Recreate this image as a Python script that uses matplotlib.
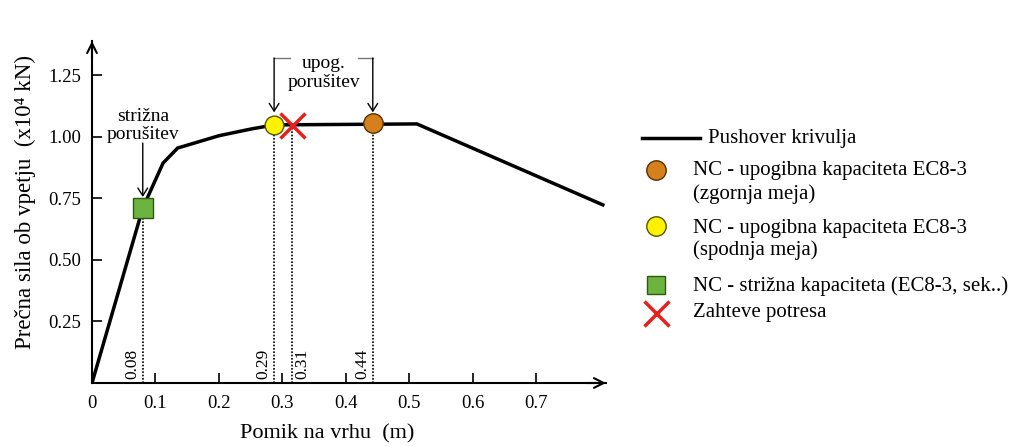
import matplotlib
matplotlib.use("Agg")
import matplotlib.pyplot as plt
from matplotlib.lines import Line2D

plt.rcParams['font.family'] = ['Liberation Serif', 'DejaVu Serif']

# Pushover curve
disp = [0.0, 0.08, 0.112, 0.135, 0.20, 0.25, 0.287, 0.512, 0.805]
force = [0.0, 0.711, 0.894, 0.955, 1.005, 1.032, 1.049, 1.053, 0.724]

# Capacity / demand points
shear_cap = (0.080, 0.711)
flex_lower = (0.287, 1.049)
flex_upper = (0.4425, 1.055)
demand = (0.315, 1.049)

vline_x = [0.080, 0.287, 0.315, 0.4425]
vline_y = [0.711, 1.049, 1.049, 1.055]
vline_labels = ["0.08", "0.29", "0.31", "0.44"]
vline_side = ["left", "left", "right", "left"]

xticks = [0, 0.1, 0.2, 0.3, 0.4, 0.5, 0.6, 0.7]
xticklabels = ["0", "0.1", "0.2", "0.3", "0.4", "0.5", "0.6", "0.7"]
yticks = [0.25, 0.50, 0.75, 1.00, 1.25]
yticklabels = ["0.25", "0.50", "0.75", "1.00", "1.25"]

legend_labels = [
    ["Pushover krivulja"],
    ["NC - upogibna kapaciteta EC8-3", "(zgornja meja)"],
    ["NC - upogibna kapaciteta EC8-3", "(spodnja meja)"],
    ["NC - strižna kapaciteta (EC8-3, sek..)"],
    ["Zahteve potresa"],
]

c_orange = "#D4801C"
c_yellow = "#FFF200"
c_green = "#6CB33F"
c_red = "#E8201C"

W, H = 1018, 446
fig = plt.figure(figsize=(W / 100, H / 100), dpi=100)
ax = fig.add_axes([92 / W, 63 / H, 514 / W, 342 / H])
ax.set_xlim(0, 0.81)
ax.set_ylim(0, 1.39)

for s in ["top", "right"]:
    ax.spines[s].set_visible(False)
for s in ["left", "bottom"]:
    ax.spines[s].set_linewidth(1.5)

# axis arrows
arrow_kw = dict(arrowstyle="->,head_length=0.7,head_width=0.35", color="k", lw=1.5,
                shrinkA=0, shrinkB=0)
ax.annotate("", xy=(1.0, 0), xytext=(0.96, 0), xycoords="axes fraction",
            arrowprops=arrow_kw, annotation_clip=False)
ax.annotate("", xy=(0, 1.0), xytext=(0, 0.95), xycoords="axes fraction",
            arrowprops=arrow_kw, annotation_clip=False)

ax.set_xticks(xticks)
ax.set_xticklabels(xticklabels)
ax.set_yticks(yticks)
ax.set_yticklabels(yticklabels)
ax.tick_params(direction="in", length=7, width=1.2, labelsize=13.5)
ax.tick_params(axis="x", pad=9)
ax.tick_params(axis="y", pad=8)

# dotted verticals + labels
for x, y, lab, side in zip(vline_x, vline_y, vline_labels, vline_side):
    ax.plot([x, x], [0, y], color="k", ls=(0, (1, 1)), lw=1.2)
    if side == "left":
        ax.text(x - 0.004, 0.016, lab, rotation=90, ha="right", va="bottom", fontsize=12.5)
    else:
        ax.text(x + 0.004, 0.016, lab, rotation=90, ha="left", va="bottom", fontsize=12.5)

ax.plot(disp, force, color="k", lw=2.5, solid_joinstyle="miter")

ax.plot(*shear_cap, "s", ms=14, mfc=c_green, mec="#2e5a10", mew=1, zorder=5)
ax.plot(*flex_lower, "o", ms=13.5, mfc=c_yellow, mec="#555500", mew=1, zorder=5)
ax.plot(*flex_upper, "o", ms=14, mfc=c_orange, mec="#5a3000", mew=1, zorder=5)
ax.plot(*demand, "x", ms=18, mec=c_red, mew=2.5, zorder=6)

gray = "#777777"
ann_kw = dict(arrowstyle="->,head_length=0.55,head_width=0.35", color="k", lw=1,
              shrinkA=0, shrinkB=0)
# strižna porušitev annotation
ax.text(0.080, 1.085, "strižna", ha="center", va="center", fontsize=14)
ax.text(0.080, 1.010, "porušitev", ha="center", va="center", fontsize=14)
ax.annotate("", xy=(0.080, 0.756), xytext=(0.080, 0.975), arrowprops=ann_kw)

# upog. porušitev bracket
ax.text(0.365, 1.300, "upog.", ha="center", va="center", fontsize=14)
ax.text(0.365, 1.222, "porušitev", ha="center", va="center", fontsize=14)
ax.plot([0.312, 0.287], [1.321, 1.321], color=gray, lw=1, clip_on=False)
ax.plot([0.419, 0.4425], [1.321, 1.321], color=gray, lw=1, clip_on=False)
ax.annotate("", xy=(0.287, 1.10), xytext=(0.287, 1.321), arrowprops=ann_kw,
            annotation_clip=False)
ax.annotate("", xy=(0.4425, 1.10), xytext=(0.4425, 1.321), arrowprops=ann_kw,
            annotation_clip=False)

ax.set_xlabel("Pomik na vrhu  (m)", fontsize=16)
ax.set_ylabel("Prečna sila ob vpetju  (x10⁴ kN)", fontsize=16.5)
ax.xaxis.set_label_coords(0.457, -0.122)
ax.yaxis.set_label_coords(-0.108, 0.53)

# manual legend (figure pixel layout)
lax = fig.add_axes([0, 0, 1, 1], facecolor="none")
lax.set_xlim(0, W)
lax.set_ylim(H, 0)
lax.axis("off")
fs_leg = 15
lax.plot([642, 700], [138, 138], color="k", lw=2.5)
lax.text(708, 138, legend_labels[0][0], va="center", ha="left", fontsize=fs_leg)
marker_specs = [
    dict(marker="o", ms=14, mfc=c_orange, mec="#5a3000", mew=1),
    dict(marker="o", ms=14, mfc=c_yellow, mec="#555500", mew=1),
    dict(marker="s", ms=13, mfc=c_green, mec="#2e5a10", mew=1),
    dict(marker="x", ms=18, mec=c_red, mew=2.5),
]
marker_y = [170, 226, 285, 313]
text_y = [[171, 194], [228, 250], [286], [313]]
for spec, my, tys, labs in zip(marker_specs, marker_y, text_y, legend_labels[1:]):
    lax.plot([656], [my], ls="none", **spec)
    for ty, lab in zip(tys, labs):
        lax.text(693, ty, lab, va="center", ha="left", fontsize=fs_leg)

fig.savefig("out.png", dpi=100)
